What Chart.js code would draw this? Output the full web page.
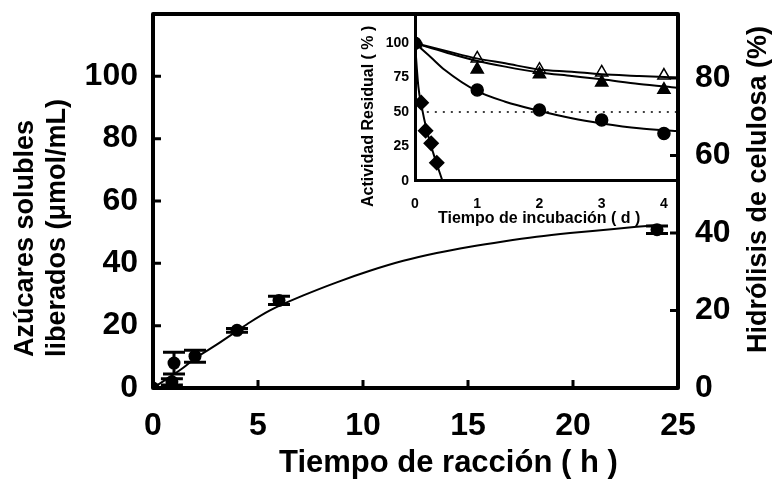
<!DOCTYPE html>
<html><head><meta charset="utf-8">
<script src="https://cdn.jsdelivr.net/npm/chart.js@4/dist/chart.umd.min.js"></script>
<style>
html,body{margin:0;padding:0;background:#fff;}
#wrap{position:relative;width:774px;height:487px;overflow:hidden;}
canvas{position:absolute;left:0;top:0;}
</style></head><body>
<div id="wrap"><canvas id="main" width="774" height="487"></canvas><canvas id="inset" width="774" height="487"></canvas></div>
<script>
// ---------- Main chart data ----------
const mainTimes = [0, 0.9, 1, 2, 4, 6, 24];               // h
const mainSugar = [0, 2.0, 8.0, 10.2, 18.5, 28.1, 50.8];  // µmol/mL
const mainErr   = [0, 1.0, 3.5, 1.9, 0.6, 1.3, 1.2];
const fitTimes  = [0, 1.44, 2, 3.03, 4, 4.62, 5.57, 7.16, 8.75, 10.33, 11.92, 13.51, 15.1, 16.68, 18.27, 19.86, 21.44, 23.03, 24];
const fitSugar  = [0, 6.5, 9.5, 13.9, 18.3, 21.1, 24.9, 29.7, 33.9, 37.6, 40.8, 43.3, 45.3, 47.0, 48.5, 49.7, 50.7, 51.7, 52.2];
const xTicksMain = [0, 5, 10, 15, 20, 25];
const yTicksLeft = [0, 20, 40, 60, 80, 100];
const yTicksRight = [0, 20, 40, 60, 80];

// ---------- Inset data ----------
const incubDays     = [0, 1, 2, 3, 4];
const actOpenTri    = [100, 89.0, 80.8, 78.8, 76.5];
const actFilledTri  = [100, 81.0, 77.5, 71.5, 66.2];
const actCircle     = [100, 66.0, 51.4, 44.2, 34.4];
const diamondDays   = [0, 0.1, 0.17, 0.26, 0.35];
const actDiamond    = [100, 56.8, 36.4, 27.2, 13.1];
const fitOpenDays   = [0, 0.5, 0.99, 1.45, 1.99, 2.52, 3.0, 3.6, 4.21];
const fitOpenAct    = [100, 94.4, 89.0, 85.4, 81.0, 79.3, 77.4, 76.2, 75.0];
const fitFilledDays = [0, 0.5, 0.99, 1.45, 1.99, 2.52, 3.0, 3.6, 4.21];
const fitFilledAct  = [100, 93.3, 87.3, 83.0, 78.8, 76.2, 73.8, 70.4, 67.7];
const fitCircDays   = [0, 0.25, 0.48, 0.99, 1.45, 1.99, 2.52, 3.0, 3.6, 4.21];
const fitCircAct    = [100, 90.0, 80.5, 65.3, 57.5, 50.9, 45.4, 41.7, 38.1, 36.1];
const fitDiaDays    = [0, 0.054, 0.107, 0.188, 0.295, 0.44];
const fitDiaAct     = [100, 68.4, 53.9, 36.9, 19.9, 0];
const halfLineDays  = [0.19, 4.21];
const halfLineAct   = [50, 50];
const xTicksInset = [0, 1, 2, 3, 4];
const yTicksInset = [0, 25, 50, 75, 100];

const FONT = "'Liberation Sans', Arial, Helvetica, sans-serif";
const pts = (xs, ys) => xs.map((x, i) => ({x: x, y: ys[i]}));
const fixTicks = arr => (s => { s.ticks = arr.map(v => ({value: v})); });
const fitTo = (w, h) => (s => {
  if (w !== null) s.width = w;
  if (h !== null) s.height = h;
  s.paddingTop = 0; s.paddingBottom = 0; s.paddingLeft = 0; s.paddingRight = 0;
});

// ---------- Main chart plugins ----------
const errorBars = {
  id: 'errorBars',
  afterDatasetsDraw(chart) {
    const {ctx, scales: {x, y}} = chart;
    ctx.save();
    ctx.strokeStyle = '#000'; ctx.lineWidth = 3;
    mainTimes.forEach((t, i) => {
      const e = mainErr[i]; if (!e) return;
      const px = x.getPixelForValue(t);
      const top = y.getPixelForValue(mainSugar[i] + e);
      const bot = y.getPixelForValue(mainSugar[i] - e);
      ctx.beginPath();
      ctx.moveTo(px, top); ctx.lineTo(px, bot);
      ctx.moveTo(px - 11, top); ctx.lineTo(px + 11, top);
      ctx.moveTo(px - 11, bot); ctx.lineTo(px + 11, bot);
      ctx.stroke();
    });
    ctx.restore();
  }
};
const frame = {
  id: 'frame',
  afterDraw(chart) {
    const {ctx, chartArea: a, scales} = chart;
    ctx.save();
    ctx.strokeStyle = '#000'; ctx.lineWidth = 4; ctx.lineJoin = 'round';
    ctx.strokeRect(a.left, a.top, a.right - a.left, a.bottom - a.top);
    ctx.lineWidth = 3;
    ctx.beginPath();
    scales.x.ticks.forEach(t => { if (t.value <= 0 || t.value >= 25) return; const p = scales.x.getPixelForValue(t.value); ctx.moveTo(p, a.bottom); ctx.lineTo(p, a.bottom - 8); });
    scales.y.ticks.forEach(t => { if (t.value <= 0) return; const p = scales.y.getPixelForValue(t.value); ctx.moveTo(a.left, p); ctx.lineTo(a.left + 8, p); });
    scales.y2.ticks.forEach(t => { if (t.value <= 0) return; const p = scales.y2.getPixelForValue(t.value); ctx.moveTo(a.right, p); ctx.lineTo(a.right - 8, p); });
    ctx.stroke();
    // axis titles
    ctx.fillStyle = '#000';
    ctx.textBaseline = 'alphabetic';
    ctx.font = 'bold 31px ' + FONT;
    ctx.textAlign = 'left';
    ctx.fillText('Tiempo de racción ( h )', 279, 472);
    ctx.font = 'bold 27px ' + FONT;
    const vtext = (txt, x, y) => { ctx.save(); ctx.translate(x, y); ctx.rotate(-Math.PI / 2); ctx.fillText(txt, 0, 0); ctx.restore(); };
    vtext('Azúcares solubles', 33, 357);
    vtext('liberados (μmol/mL)', 65, 357);
    vtext('Hidrólisis de celulosa (%)', 766, 353);
    ctx.restore();
  }
};

const tickFont = {family: FONT, size: 32, weight: 'bold'};
new Chart(document.getElementById('main'), {
  type: 'scatter',
  data: { datasets: [
    { type: 'line', data: pts(fitTimes, fitSugar), borderColor: '#000', borderWidth: 2, pointRadius: 0, tension: 0.4, cubicInterpolationMode: 'monotone', fill: false },
    { type: 'scatter', data: pts(mainTimes, mainSugar), pointRadius: 6.5, pointBackgroundColor: '#000', pointBorderColor: '#000', pointBorderWidth: 0 }
  ]},
  options: {
    responsive: false, animation: false, devicePixelRatio: 1,
    layout: {autoPadding: false, padding: {left: 0, right: 0, top: 14, bottom: 0}},
    plugins: {legend: {display: false}, tooltip: {enabled: false}},
    scales: {
      x: { type: 'linear', position: 'bottom', min: 0, max: 25, afterBuildTicks: fixTicks(xTicksMain), afterFit: fitTo(null, 99),
           grid: {display: false, drawTicks: false}, border: {display: false},
           ticks: {font: tickFont, color: '#000', padding: 19, maxRotation: 0, autoSkip: false} },
      y: { type: 'linear', position: 'left', min: 0, max: 120, afterBuildTicks: fixTicks(yTicksLeft), afterFit: fitTo(153, null),
           grid: {display: false, drawTicks: false}, border: {display: false},
           ticks: {font: tickFont, color: '#000', padding: 15, autoSkip: false} },
      y2: { type: 'linear', position: 'right', min: 0, max: 96.5, afterBuildTicks: fixTicks(yTicksRight), afterFit: fitTo(96, null),
           grid: {display: false, drawTicks: false}, border: {display: false},
           ticks: {font: tickFont, color: '#000', padding: 17, autoSkip: false} }
    }
  },
  plugins: [errorBars, frame]
});

// ---------- Inset ----------
const insetTitles = {
  id: 'insetTitles',
  afterDraw(chart) {
    const {ctx} = chart;
    ctx.save();
    ctx.fillStyle = '#000';
    ctx.font = 'bold 16px ' + FONT;
    ctx.textAlign = 'left'; ctx.textBaseline = 'alphabetic';
    ctx.fillText('Tiempo de incubación ( d )', 438, 223);
    ctx.translate(373, 207); ctx.rotate(-Math.PI / 2);
    ctx.fillText('Actividad Residual ( % )', 0, 0);
    ctx.restore();
  }
};
const lineDs = (xs, ys, extra) => Object.assign({ type: 'line', data: pts(xs, ys), borderColor: '#000', borderWidth: 2, pointRadius: 0, tension: 0.4, cubicInterpolationMode: 'monotone', fill: false }, extra || {});
const markDs = (xs, ys, style, bg, r) => ({ type: 'scatter', data: pts(xs, ys), pointStyle: style, pointRadius: r, pointBackgroundColor: bg, pointBorderColor: '#000', pointBorderWidth: 1.5 });
const insetTickFont = {family: FONT, size: 14, weight: 'bold'};
new Chart(document.getElementById('inset'), {
  type: 'scatter',
  data: { datasets: [
    lineDs(halfLineDays, halfLineAct, {borderDash: [2, 6], borderWidth: 1.5, tension: 0}),
    lineDs(fitDiaDays, fitDiaAct),
    lineDs(fitOpenDays, fitOpenAct),
    lineDs(fitFilledDays, fitFilledAct),
    lineDs(fitCircDays, fitCircAct),
    markDs(diamondDays, actDiamond, 'rectRot', '#000', 7),
    markDs(incubDays, actFilledTri, 'triangle', '#000', 7),
    markDs(incubDays, actOpenTri, 'triangle', '#fff', 7),
    markDs(incubDays, actCircle, 'circle', '#000', 6)
  ]},
  options: {
    responsive: false, animation: false, devicePixelRatio: 1,
    layout: {autoPadding: false, padding: {left: 0, right: 97, top: 14, bottom: 0}},
    plugins: {legend: {display: false}, tooltip: {enabled: false}},
    scales: {
      x: { type: 'linear', position: 'bottom', min: 0, max: 4.21, afterBuildTicks: fixTicks(xTicksInset), afterFit: fitTo(null, 306.3),
           grid: {display: false, drawTicks: false}, border: {display: true, width: 3, color: '#000'},
           ticks: {font: insetTickFont, color: '#000', padding: 15, maxRotation: 0, autoSkip: false} },
      y: { type: 'linear', position: 'left', min: 0, max: 121.3, afterBuildTicks: fixTicks(yTicksInset), afterFit: fitTo(415, null),
           grid: {display: false, drawTicks: false}, border: {display: true, width: 3, color: '#000'},
           ticks: {font: insetTickFont, color: '#000', padding: 6, autoSkip: false} }
    }
  },
  plugins: [insetTitles]
});
</script>
</body></html>
